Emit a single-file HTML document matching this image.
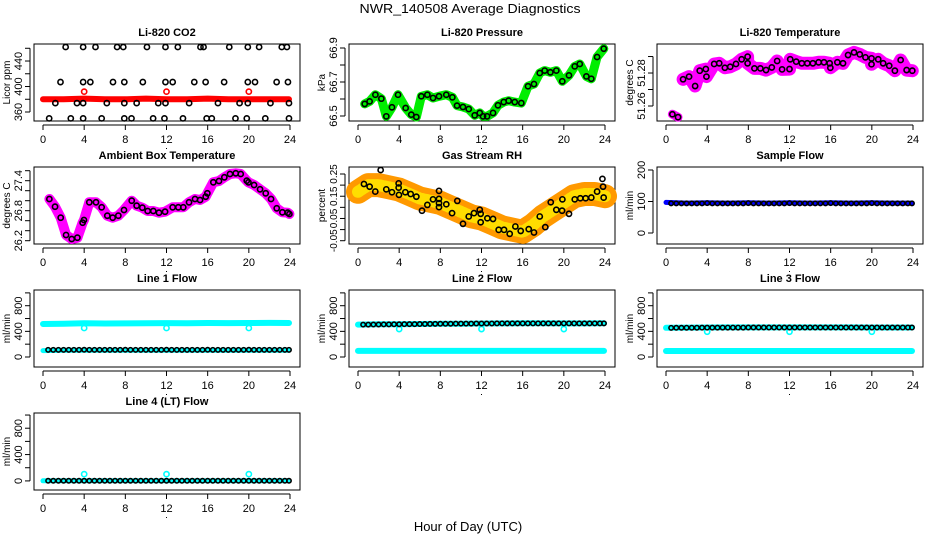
<!DOCTYPE html>
<html><head><meta charset="utf-8">
<style>
html,body{margin:0;padding:0;background:#fff;}
svg{display:block;font-family:"Liberation Sans",sans-serif;}
</style></head>
<body>
<svg id="chart" xmlns="http://www.w3.org/2000/svg" width="936" height="540" viewBox="0 0 936 540">
<rect width="936" height="540" fill="#fff"/>
<text x="470" y="13" text-anchor="middle" font-size="13" textLength="221" lengthAdjust="spacingAndGlyphs">NWR_140508  Average Diagnostics</text>
<text x="468" y="531" text-anchor="middle" font-size="13">Hour of Day (UTC)</text>
</svg>
<script>
// ---------- data ----------
const xTicks = [0,4,8,12,16,20,24];

// CO2
const co2TopHours = [2.2,3.9,5.1,7.2,7.8,10.1,11.9,13.1,15.3,15.6,18.1,19.9,21.0,23.2,23.7];
const co2TopVals = [462,462,462,462,462,462,462,462,462,462,462,462,462,462,462];
const co2MidHours = [1.7,3.9,4.6,6.8,7.9,9.7,11.9,12.6,14.7,15.8,17.6,19.9,20.6,22.7,23.8];
const co2MidVals = [407,407,407,407,407,407,407,407,407,407,407,407,407,407,407];
const co2LowHours = [1.2,3.3,3.9,6.2,7.9,9.1,11.2,11.9,14.2,17.0,19.1,19.9,22.1,23.9];
const co2LowVals = [374,374,374,374,374,374,374,374,374,374,374,374,374,374];
const co2BotHours = [0.6,2.7,3.9,5.7,7.9,8.6,10.7,11.8,13.6,15.9,16.4,18.7,19.8,21.6,23.9];
const co2BotVals = [350,350,350,350,350,350,350,350,350,350,350,350,350,350,350];
const co2RedHours = [0,2,4,6,8,10,12,14,16,18,20,22,23.9];
const co2RedVals = [380,380,381,380,380,381,380,380,381,380,380,380,380];
const co2RedPtHours = [4,12,20];
const co2RedPtVals = [392,392,392];
const co2Ticks = [360,380,400,420,440,460];
const co2Labels = [360,400,440];

// Pressure
const presHours = [0.65,1.13,1.69,2.27,2.75,3.3,3.89,4.63,5.18,5.67,6.15,6.74,7.29,7.87,8.58,9.17,9.62,10.2,10.76,11.34,11.83,12.15,12.54,13.12,13.6,14.16,14.64,15.23,15.87,16.52,17.1,17.66,18.14,18.69,19.27,19.85,20.5,21.06,21.55,22.19,22.67,23.23,23.88];
const presVals = [66.571,66.586,66.625,66.602,66.498,66.551,66.625,66.547,66.508,66.494,66.616,66.625,66.606,66.616,66.625,66.61,66.561,66.553,66.541,66.504,66.518,66.498,66.498,66.518,66.563,66.582,66.59,66.582,66.576,66.675,66.688,66.753,66.767,66.757,66.767,66.704,66.739,66.792,66.806,66.733,66.719,66.847,66.896];
const presTicks = [66.5,66.6,66.7,66.8,66.9];
const presLabels = [66.5,66.7,66.9];

// Li-820 temperature
const tempHours = [0.62,1.17,1.66,2.24,2.83,3.28,3.87,3.93,4.68,5.17,5.72,6.24,6.8,7.35,7.93,7.93,8.59,9.17,9.72,10.28,10.8,11.28,12.0,12.07,12.65,13.2,13.73,14.27,14.83,15.35,15.9,15.97,16.65,17.2,17.69,18.27,18.83,19.38,19.97,19.97,20.62,21.1,21.69,22.24,22.8,23.38,23.93];
const tempVals = [51.255,51.2532,51.2762,51.2778,51.2721,51.2814,51.2824,51.2778,51.2855,51.2859,51.2832,51.2838,51.2855,51.2883,51.2899,51.2859,51.2828,51.2828,51.2818,51.2834,51.2873,51.2822,51.2824,51.2883,51.2869,51.2859,51.2859,51.2859,51.2865,51.2865,51.2859,51.2832,51.2865,51.2859,51.2909,51.2925,51.2913,51.2895,51.2889,51.2853,51.2883,51.2859,51.2844,51.2814,51.2879,51.2818,51.2814];
const tempTicks = [51.26,51.27,51.28,51.29];
const tempLabels = [51.26,51.28];

// Ambient box temperature
const ambHours = [0.62,1.17,1.72,2.24,2.79,3.34,3.85,3.98,4.5,5.15,5.7,6.25,6.77,7.32,7.87,8.62,9.1,9.65,10.17,10.72,11.27,11.86,12.6,13.15,13.63,14.19,14.77,15.26,15.81,15.97,16.55,17.1,17.62,18.17,18.73,19.21,19.8,19.96,20.51,21.09,21.64,22.16,22.71,23.26,23.78,23.94];
const ambVals = [27.034,26.88,26.66,26.314,26.234,26.26,26.56,26.614,26.968,26.968,26.868,26.7,26.66,26.7,26.814,27.0,26.9,26.86,26.794,26.794,26.76,26.78,26.868,26.868,26.868,26.968,27.034,27.014,27.08,27.148,27.368,27.394,27.468,27.534,27.548,27.534,27.4,27.368,27.314,27.228,27.148,27.034,26.848,26.768,26.76,26.734];
const ambTicks = [26.2,26.4,26.6,26.8,27.0,27.2,27.4,27.6];
const ambLabels = [26.2,26.8,27.4];

// Gas stream RH
const rhHours = [2.2,0.58,1.13,1.68,2.75,3.3,3.95,3.95,3.98,4.6,5.12,5.67,6.22,6.74,7.29,7.87,7.87,7.87,7.87,8.58,9.14,9.65,10.2,10.76,11.27,11.83,11.92,11.92,12.57,13.12,13.67,14.19,14.74,15.29,15.81,16.59,17.1,17.66,18.2,18.73,19.27,19.83,19.86,20.5,21.06,21.6,22.12,22.67,23.23,23.75,23.81,23.87];
const rhVals = [0.268,0.205,0.193,0.171,0.181,0.168,0.208,0.189,0.156,0.168,0.16,0.148,0.085,0.111,0.136,0.174,0.138,0.119,0.101,0.114,0.074,0.129,0.026,0.059,0.074,0.089,0.071,0.033,0.051,0.048,-0.001,-0.001,-0.019,0.014,-0.006,0.002,-0.013,0.059,0.011,0.123,0.089,0.085,0.136,0.071,0.136,0.141,0.141,0.144,0.171,0.228,0.193,0.144];
const rhCloudHours = [0,1,2,3,4,5,6,7,8,9,10,11,12,13,14,15,16,17,18,19,20,21,22,23,24];
const rhCloudVals = [0.17,0.2,0.2,0.19,0.18,0.16,0.14,0.13,0.12,0.1,0.08,0.06,0.05,0.03,0.01,0.0,-0.01,0.02,0.06,0.09,0.12,0.15,0.16,0.16,0.15];
const rhTicks = [-0.05,0.0,0.05,0.10,0.15,0.20,0.25];
const rhLabels = ["-0.05","0.05","0.15","0.25"];
const rhLabelVals = [-0.05,0.05,0.15,0.25];

// Flows (half-hourly)
const flowHours = [0.5,1,1.5,2,2.5,3,3.5,4,4.5,5,5.5,6,6.5,7,7.5,8,8.5,9,9.5,10,10.5,11,11.5,12,12.5,13,13.5,14,14.5,15,15.5,16,16.5,17,17.5,18,18.5,19,19.5,20,20.5,21,21.5,22,22.5,23,23.5,23.9];
const bandHours = [0,2,4,6,8,10,12,14,16,18,20,22,23.9];
const sampleBlack = [94,94,94,94,94,94,94,95,94,94,94,94,94,94,94,95,94,94,94,94,94,94,94,95,94,94,94,94,94,94,94,95,94,94,94,94,94,94,94,95,94,94,94,94,94,94,94,94];
const sampleBlue = [97,95,96,95,96,95,96,95,96,95,96,95,95];
const line1Black = [112,112,112,112,112,112,112,113,112,112,112,112,112,112,112,113,112,112,112,112,112,112,112,113,112,112,112,112,112,112,112,113,112,112,112,112,112,112,112,113,112,112,112,112,112,112,112,112];
const line1Cyan = [515,520,525,522,524,526,528,526,530,529,531,532,530];
const line1CyanLow = [100,104,104,104,104,104,104,104,104,104,104,104,104];
const line1Dips = [452,452,452];
const line2Black = [505,505,506,507,508,509,510,511,512,513,513,514,515,516,517,518,518,519,520,520,521,521,522,522,523,523,524,524,524,525,525,525,525,525,525,525,525,525,525,525,525,525,525,525,525,525,525,525];
const line2Cyan = [505,510,512,515,518,520,522,524,525,525,524,524,525];
const line2CyanLow = [95,95,95,95,95,95,95,95,95,95,95,95,95];
const line2Dips = [436,436,436];
const line3Black = [455,456,456,457,457,457,458,458,458,458,459,459,459,459,459,460,460,460,460,460,460,460,460,460,460,460,460,460,460,460,460,460,460,460,460,460,460,460,460,460,460,460,460,460,460,460,460,460];
const line3Cyan = [455,458,460,462,462,462,462,462,462,462,460,460,460];
const line3CyanLow = [94,94,94,94,94,94,94,94,94,94,94,94,94];
const line3Dips = [395,395,395];
const line4Black = [2,2,2,2,2,2,2,2,2,2,2,2,2,2,2,2,2,2,2,2,2,2,2,2,2,2,2,2,2,2,2,2,2,2,2,2,2,2,2,2,2,2,2,2,2,2,2,2];
const line4Cyan = [2,2,2,2,2,2,2,2,2,2,2,2,2];
const line4Dips = [103,103,103];
const dipHours = [4,12,20];
const flowTicks = [0,200,400,600,800,1000];
const flowLabels = [0,400,800];
const sampleTicks = [0,100,200];
const sampleLabels = [0,100,200];

// ---------- drawing ----------
const NS = "http://www.w3.org/2000/svg";
const svg = document.getElementById("chart");
const colL = [34,349,657], rowT = [44,167,290,413], BW = 266, BH = 77;

function mk(tag, attrs, parent){
  const e = document.createElementNS(NS, tag);
  for (const k in attrs) e.setAttribute(k, attrs[k]);
  (parent||svg).appendChild(e);
  return e;
}

function panel(name, col, row, title, ylab, ymin, ymax, ticks, labelVals, labelText, lblSize){
  const L = colL[col], T = rowT[row];
  const g = mk("g", {});
  
  
  const xs = h => L + 9 + h/24*247;
  const ys = v => T + BH - (v - ymin)/(ymax - ymin)*BH;
  const box = mk("rect", {x:L, y:T, width:BW, height:BH, fill:"none", stroke:"#000", "stroke-width":1}, g);
  
  
  const t = mk("text", {x:L+BW/2, y:T-8, "text-anchor":"middle", "font-size":11, "font-weight":"bold"}, g);
  t.textContent = title;
  
  
  const yl = mk("text", {x:0, y:0, "text-anchor":"middle", "font-size":10, transform:`translate(${L-24},${T+BH/2}) rotate(-90)`}, g);
  yl.textContent = ylab;
  
  
  const xa = mk("g", {}, g);
  
  
  mk("line", {x1:xs(xTicks[0]), x2:xs(xTicks[xTicks.length-1]), y1:T+BH+4, y2:T+BH+4, stroke:"#000"}, xa);
  xTicks.forEach(v=>{
    mk("line", {x1:xs(v), x2:xs(v), y1:T+BH+4, y2:T+BH+9, stroke:"#000"}, xa);
    const tl = mk("text", {x:xs(v), y:T+BH+22, "text-anchor":"middle", "font-size":11}, xa);
    tl.textContent = v;
    
    
  });
  mk("rect", {x:L+BW/2-1, y:T+BH+27, width:1, height:1, fill:"#000"}, xa);
  const ya = mk("g", {}, g);
  
  
  const visTicks = ticks.filter(v=>v>=ymin && v<=ymax);
  mk("line", {x1:L-4, x2:L-4, y1:ys(visTicks[0]), y2:ys(visTicks[visTicks.length-1]), stroke:"#000"}, ya);
  visTicks.forEach(v=>{
    mk("line", {x1:L-9, x2:L-4, y1:ys(v), y2:ys(v), stroke:"#000"}, ya);
  });
  labelVals.forEach((v,i)=>{
    const tl = mk("text", {x:0, y:0, "text-anchor":"middle", "font-size":lblSize||11, transform:`translate(${L-12},${ys(v)}) rotate(-90)`}, ya);
    tl.textContent = labelText ? labelText[i] : v;
    
    
  });
  return {g, xs, ys};
}

function band(p, hours, vals, color, w, name){
  const pts = hours.map((h,i)=>p.xs(h).toFixed(1)+","+p.ys(vals[i]).toFixed(1)).join(" ");
  const pl = mk("polyline", {points:pts, fill:"none", stroke:color, "stroke-width":w, "stroke-linejoin":"round", "stroke-linecap":"round"}, p.g);
  
  
  return pl;
}
function circles(p, hours, vals, color, name, r){
  const g = mk("g", {}, p.g);
  
  
  hours.forEach((h,i)=>{
    const c = mk("circle", {cx:p.xs(h), cy:p.ys(vals[i]), r:r||2.6, fill:"none", stroke:color, "stroke-width":1.6}, g);
    
    
  });
}

let p = panel("co2", 0, 0, "Li-820 CO2", "Licor ppm", 345.9, 466.7, co2Ticks, co2Labels);
band(p, co2RedHours, co2RedVals, "#ff0000", 6, "co2-red-band");
circles(p, co2RedPtHours, co2RedPtVals, "#ff0000", "co2-red-points");
circles(p, co2TopHours, co2TopVals, "#000", "co2-top-points");
circles(p, co2MidHours, co2MidVals, "#000", "co2-mid-points");
circles(p, co2LowHours, co2LowVals, "#000", "co2-low-points");
circles(p, co2BotHours, co2BotVals, "#000", "co2-bottom-points");

p = panel("pressure", 1, 0, "Li-820 Pressure", "kPa", 66.4706, 66.9235, presTicks, presLabels);
band(p, presHours, presVals, "#00ee00", 9, "pressure-green-band");
circles(p, presHours, presVals, "#000", "pressure-points");

p = panel("temperature", 2, 0, "Li-820 Temperature", "degrees C", 51.2509, 51.2976, tempTicks, tempLabels);
band(p, tempHours.slice(0,2), tempVals.slice(0,2), "#ff00ff", 9, "temperature-band-early");
band(p, tempHours.slice(2), tempVals.slice(2), "#ff00ff", 13, "temperature-band");
circles(p, tempHours, tempVals, "#000", "temperature-points");

p = panel("ambient", 0, 1, "Ambient Box Temperature", "degrees C", 26.134, 27.674, ambTicks, ambLabels);
band(p, ambHours, ambVals, "#ff00ff", 10, "ambient-band");
circles(p, ambHours, ambVals, "#000", "ambient-points");

p = panel("rh", 1, 1, "Gas Stream RH", "percent", -0.0648, 0.2815, rhTicks, rhLabelVals, rhLabels, 10);
band(p, rhCloudHours, rhCloudVals, "#ff9900", 24, "rh-orange-band");
band(p, rhCloudHours, rhCloudVals, "#ffdd00", 12, "rh-yellow-band").setAttribute("stroke-dasharray","2 2");
circles(p, rhHours, rhVals, "#000", "rh-points");

p = panel("sample-flow", 2, 1, "Sample Flow", "ml/min", -34.9, 209.5, sampleTicks, sampleLabels);
band(p, bandHours, sampleBlue, "#0000ff", 5, "sample-blue-band");
circles(p, flowHours, sampleBlack, "#000", "sample-points", 2.2);

p = panel("line1", 0, 2, "Line 1 Flow", "ml/min", -156, 1045, flowTicks, flowLabels);
band(p, bandHours, line1Cyan, "#00ffff", 6, "line1-cyan-band");
band(p, bandHours, line1CyanLow, "#00ffff", 5, "line1-cyan-low-band");
circles(p, dipHours, line1Dips, "#00ffff", "line1-dips");
circles(p, flowHours, line1Black, "#000", "line1-points", 2.2);

p = panel("line2", 1, 2, "Line 2 Flow", "ml/min", -156, 1045, flowTicks, flowLabels);
band(p, bandHours, line2Cyan, "#00ffff", 6, "line2-cyan-band");
band(p, bandHours, line2CyanLow, "#00ffff", 6, "line2-cyan-low-band");
circles(p, dipHours, line2Dips, "#00ffff", "line2-dips");
circles(p, flowHours, line2Black, "#000", "line2-points", 2.2);

p = panel("line3", 2, 2, "Line 3 Flow", "ml/min", -156, 1045, flowTicks, flowLabels);
band(p, bandHours, line3Cyan, "#00ffff", 6, "line3-cyan-band");
band(p, bandHours, line3CyanLow, "#00ffff", 6, "line3-cyan-low-band");
circles(p, dipHours, line3Dips, "#00ffff", "line3-dips");
circles(p, flowHours, line3Black, "#000", "line3-points", 2.2);

p = panel("line4", 0, 3, "Line 4 (LT) Flow", "ml/min", -138, 1031, flowTicks, flowLabels);
band(p, bandHours, line4Cyan, "#00ffff", 5, "line4-cyan-band");
circles(p, dipHours, line4Dips, "#00ffff", "line4-dips");
circles(p, flowHours, line4Black, "#000", "line4-points", 2.2);
</script>
</body></html>
